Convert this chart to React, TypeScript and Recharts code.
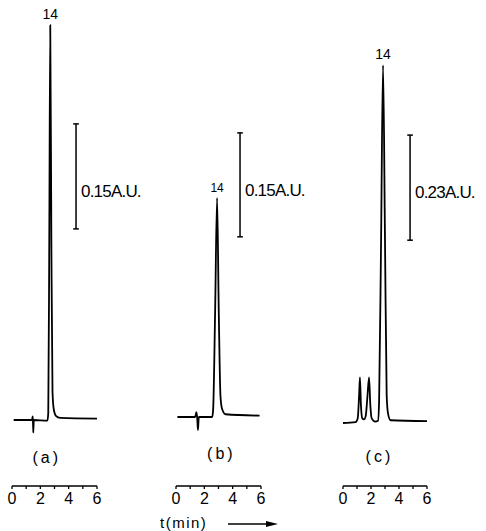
import {
  Line,
  LineChart,
  ReferenceDot,
  ReferenceLine,
  XAxis,
  YAxis,
} from "recharts";

const traceA = [
  { t: 0.12, au: 0 },
  { t: 1.4, au: 0 },
  { t: 1.47, au: 0.005 },
  { t: 1.5, au: -0.018 },
  { t: 1.54, au: 0 },
  { t: 2.5, au: -0.001 },
  { t: 2.56, au: 0.01 },
  { t: 2.63, au: 0.25 },
  { t: 2.7, au: 0.564 },
  { t: 2.78, au: 0.25 },
  { t: 2.86, au: 0.04 },
  { t: 2.95, au: 0.015 },
  { t: 3.1, au: 0.006 },
  { t: 3.4, au: 0.003 },
  { t: 6.0, au: 0.002 },
];

const traceB = [
  { t: 0.1, au: 0 },
  { t: 1.35, au: 0 },
  { t: 1.44, au: 0.007 },
  { t: 1.5, au: -0.002 },
  { t: 1.55, au: -0.019 },
  { t: 1.61, au: 0 },
  { t: 2.55, au: 0 },
  { t: 2.62, au: 0.01 },
  { t: 2.76, au: 0.15 },
  { t: 2.9, au: 0.316 },
  { t: 3.02, au: 0.15 },
  { t: 3.14, au: 0.03 },
  { t: 3.25, au: 0.012 },
  { t: 3.5, au: 0.004 },
  { t: 5.9, au: 0.002 },
];

const traceC = [
  { t: 0.0, au: 0 },
  { t: 0.9, au: 0.002 },
  { t: 1.05, au: 0.01 },
  { t: 1.15, au: 0.06 },
  { t: 1.21, au: 0.1 },
  { t: 1.28, au: 0.04 },
  { t: 1.38, au: 0.01 },
  { t: 1.5, au: 0.008 },
  { t: 1.62, au: 0.015 },
  { t: 1.75, au: 0.06 },
  { t: 1.86, au: 0.1 },
  { t: 1.95, au: 0.04 },
  { t: 2.05, au: 0.01 },
  { t: 2.3, au: 0.003 },
  { t: 2.5, au: 0.005 },
  { t: 2.58, au: 0.05 },
  { t: 2.72, au: 0.4 },
  { t: 2.86, au: 0.783 },
  { t: 3.0, au: 0.4 },
  { t: 3.12, au: 0.06 },
  { t: 3.22, au: 0.02 },
  { t: 3.4, au: 0.006 },
  { t: 6.0, au: 0.004 },
];

const timeTicks = [0, 1, 2, 3, 4, 5, 6];
const peakName = "14";
const panelTags = ["(a)", "(b)", "(c)"];
const scaleTexts = ["0.15A.U.", "0.15A.U.", "0.23A.U."];
// barra de escala: [t, au inicial, au final, au do texto]
const scaleBars = [
  [4.52, 0.273, 0.423, 0.327],
  [4.52, 0.26, 0.41, 0.328],
  [4.79, 0.4, 0.63, 0.505],
];
// posição do rótulo (a)/(b)/(c): [t, au]
const tagPos = [
  [2.45, -0.053],
  [3.2, -0.052],
  [2.6, -0.074],
];

const AXIS_Y = 486;
const FONT = "'Liberation Sans', Arial, sans-serif";

const panels = [
  { data: traceA, left: 0, width: 160, plotLeft: 12, plotRight: 97, baseY: 420, pxPerAU: 700, peakSize: 14 },
  { data: traceB, left: 160, width: 160, plotLeft: 16, plotRight: 101, baseY: 417, pxPerAU: 693, peakSize: 12 },
  { data: traceC, left: 320, width: 166, plotLeft: 23, plotRight: 107, baseY: 423, pxPerAU: 457, peakSize: 14 },
];

const TimeLabel = ({ viewBox }: any) => {
  const x0 = viewBox.x - 16;
  const y0 = viewBox.y + 38;
  return (
    <g>
      <text x={x0} y={y0 + 4} fontSize={15} fontFamily={FONT} letterSpacing={1.5} fill="#000">
        t(min)
      </text>
      <line x1={x0 + 68} y1={y0} x2={x0 + 108} y2={y0} stroke="#000" strokeWidth={1.6} />
      <polygon points={`${x0 + 106},${y0 - 3} ${x0 + 118},${y0} ${x0 + 106},${y0 + 3}`} fill="#000" />
    </g>
  );
};

function Panel({ idx }: { idx: number }) {
  const p = panels[idx];
  const apex = p.data.reduce((m, d, i) => (d.au > p.data[m].au ? i : m), 0);
  const lo = -(AXIS_Y - p.baseY) / p.pxPerAU;
  const hi = p.baseY / p.pxPerAU;
  const [bt, b0, b1, bText] = scaleBars[idx];
  const cap = 0.2;

  return (
    <div style={{ position: "absolute", left: p.left, top: 0 }}>
      <LineChart
        width={p.width}
        height={531}
        data={p.data}
        margin={{ top: 0, right: p.width - p.plotRight, bottom: 0, left: p.plotLeft }}
      >
        <XAxis
          dataKey="t"
          type="number"
          domain={[0, 6]}
          ticks={timeTicks}
          tickFormatter={(v) => (v % 2 === 0 ? String(v) : "")}
          height={45}
          tickSize={3}
          tickMargin={4}
          axisLine={{ stroke: "#000", strokeWidth: 1.5 }}
          tickLine={{ stroke: "#000", strokeWidth: 1.3 }}
          tick={{ fill: "#000", fontSize: 16, fontFamily: FONT }}
          interval={0}
          label={idx === 1 ? <TimeLabel /> : undefined}
        />
        <YAxis hide type="number" domain={[lo, hi]} allowDataOverflow />
        <ReferenceLine
          segment={[{ x: bt, y: b0 }, { x: bt, y: b1 }]}
          stroke="#000"
          strokeWidth={1.5}
        />
        <ReferenceLine
          segment={[{ x: bt - cap, y: b0 }, { x: bt + cap, y: b0 }]}
          stroke="#000"
          strokeWidth={1.5}
        />
        <ReferenceLine
          segment={[{ x: bt - cap, y: b1 }, { x: bt + cap, y: b1 }]}
          stroke="#000"
          strokeWidth={1.5}
        />
        <ReferenceDot
          x={bt}
          y={bText}
          r={0}
          fill="none"
          stroke="none"
          label={{
            value: scaleTexts[idx],
            position: "right",
            offset: 5,
            fill: "#000",
            fontSize: 17,
            fontFamily: FONT,
            letterSpacing: -0.8,
          }}
        />
        <ReferenceDot
          x={tagPos[idx][0]}
          y={tagPos[idx][1]}
          r={0}
          fill="none"
          stroke="none"
          label={{
            value: panelTags[idx],
            position: "center",
            fill: "#000",
            fontSize: 16,
            fontFamily: FONT,
            letterSpacing: 3,
          }}
        />
        <Line
          dataKey="au"
          type="monotone"
          stroke="#000"
          strokeWidth={1.8}
          dot={false}
          isAnimationActive={false}
          label={(lp: any) =>
            lp.index === apex ? (
              <text
                key="apex"
                x={lp.x}
                y={lp.y - 6}
                textAnchor="middle"
                fontSize={p.peakSize}
                fontFamily={FONT}
                fill="#000"
              >
                {peakName}
              </text>
            ) : (
              <g key={lp.index} />
            )
          }
        />
      </LineChart>
    </div>
  );
}

export default function App() {
  return (
    <div
      style={{
        position: "absolute",
        left: 0,
        top: 0,
        width: 486,
        height: 531,
        background: "#fff",
        overflow: "hidden",
      }}
    >
      {panels.map((_, i) => (
        <Panel key={i} idx={i} />
      ))}
    </div>
  );
}
